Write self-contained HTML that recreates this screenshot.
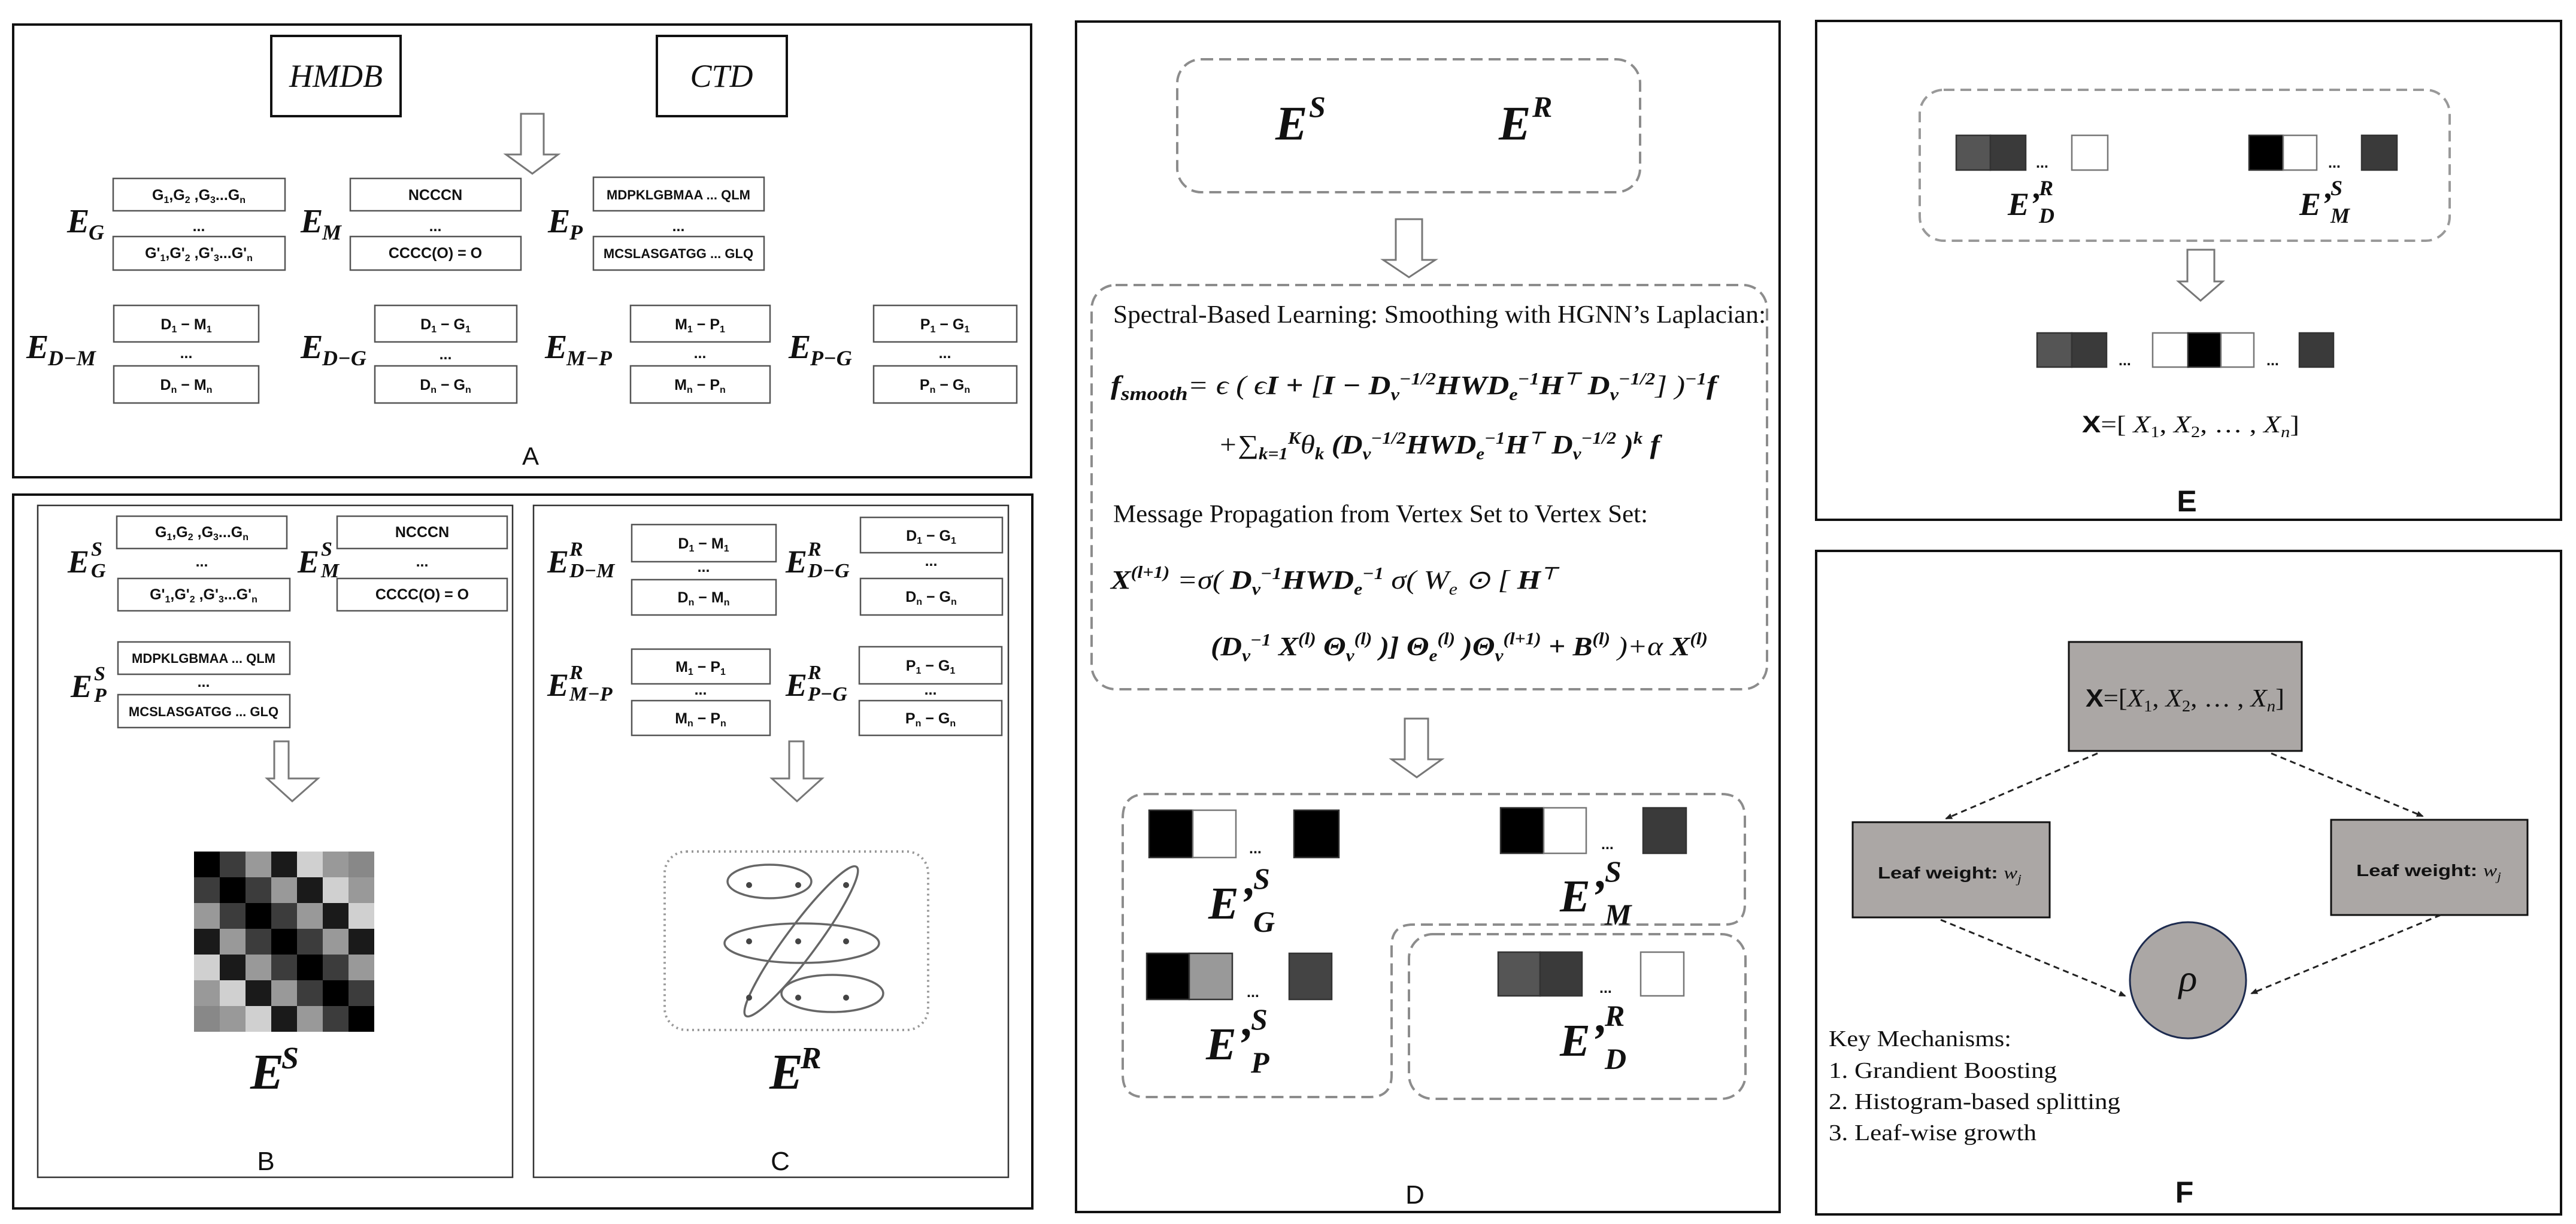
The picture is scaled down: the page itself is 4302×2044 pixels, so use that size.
<!DOCTYPE html>
<html><head><meta charset="utf-8"><style>
html,body{margin:0;padding:0;background:#fff;}
body{width:4302px;height:2044px;position:relative;overflow:hidden;}
svg{position:absolute;left:0;top:0;}
.bx{font-family:"Liberation Sans",sans-serif;font-weight:bold;font-size:25px;fill:#111;}
.mi{font-family:"Liberation Serif",serif;font-style:italic;fill:#111;}
.mb{font-family:"Liberation Serif",serif;font-style:italic;font-weight:bold;fill:#111;}
.tr{font-family:"Liberation Serif",serif;fill:#111;}
.lab{font-family:"Liberation Sans",sans-serif;fill:#111;}
</style></head><body>
<svg width="4302" height="2044" viewBox="0 0 4302 2044" xmlns="http://www.w3.org/2000/svg">
<defs>
<marker id="ah" markerWidth="12" markerHeight="10" refX="10" refY="5" orient="auto" markerUnits="userSpaceOnUse"><path d="M0,0 L12,5 L0,10 Z" fill="#222"/></marker>
</defs>
<g fill="none" stroke="#111" stroke-width="4">
<rect x="22" y="41" width="1700" height="756"/>
<rect x="22" y="826" width="1702" height="1192"/>
<rect x="1797" y="36" width="1175" height="1988"/>
<rect x="3033" y="35" width="1244" height="833"/>
<rect x="3033" y="920" width="1244" height="1108"/>
</g>
<g fill="none" stroke="#333" stroke-width="2.5">
<rect x="63" y="844" width="793" height="1122"/>
<rect x="891" y="844" width="793" height="1122"/>
</g>
<g fill="#fff" stroke="#111" stroke-width="4">
<rect x="453" y="60" width="216" height="134"/>
<rect x="1097" y="60" width="217" height="134"/>
</g>
<text x="561" y="145" text-anchor="middle" class="mi" font-size="54">HMDB</text>
<text x="1205" y="145" text-anchor="middle" class="mi" font-size="54">CTD</text>
<g fill="#fff" stroke="#777" stroke-width="3">
<path d="M870,190 L908,190 L908,258 L932,258 L889,290 L845,258 L870,258 Z"/>
<path d="M458,1238 L482,1238 L482,1300 L531,1300 L488,1338 L446,1300 L458,1300 Z"/>
<path d="M1318,1238 L1342,1238 L1342,1300 L1373,1300 L1331,1338 L1289,1300 L1318,1300 Z"/>
<path d="M2331,366 L2375,366 L2375,434 L2397,434 L2353,463 L2310,434 L2331,434 Z"/>
<path d="M2346,1200 L2385,1200 L2385,1268 L2408,1268 L2366,1298 L2324,1268 L2346,1268 Z"/>
<path d="M3653,417 L3698,417 L3698,470 L3712,470 L3675,502 L3638,470 L3653,470 Z"/>
</g>
<g fill="#fff" stroke="#555" stroke-width="2.5">
<rect x="189" y="298" width="287" height="54"/><rect x="189" y="395" width="287" height="56"/>
<rect x="585" y="298" width="285" height="54"/><rect x="585" y="395" width="285" height="56"/>
<rect x="991" y="296" width="285" height="56"/><rect x="991" y="395" width="285" height="56"/>
<rect x="190" y="510" width="242" height="61"/><rect x="190" y="611" width="242" height="62"/>
<rect x="626" y="510" width="237" height="61"/><rect x="626" y="611" width="237" height="62"/>
<rect x="1053" y="510" width="233" height="61"/><rect x="1053" y="611" width="233" height="62"/>
<rect x="1459" y="510" width="239" height="61"/><rect x="1459" y="611" width="239" height="62"/>
<rect x="195" y="862" width="284" height="54"/><rect x="197" y="966" width="287" height="54"/>
<rect x="563" y="862" width="284" height="54"/><rect x="563" y="966" width="284" height="54"/>
<rect x="197" y="1072" width="287" height="54"/><rect x="197" y="1160" width="287" height="55"/>
<rect x="1055" y="876" width="241" height="62"/><rect x="1055" y="968" width="241" height="59"/>
<rect x="1437" y="864" width="237" height="59"/><rect x="1437" y="966" width="237" height="61"/>
<rect x="1055" y="1084" width="231" height="58"/><rect x="1055" y="1170" width="231" height="58"/>
<rect x="1435" y="1080" width="238" height="62"/><rect x="1435" y="1170" width="238" height="58"/>
</g>
<g class="bx" text-anchor="middle">
<text x="332" y="334">G<tspan font-size="16" dy="5">1</tspan><tspan dy="-5">,G</tspan><tspan font-size="16" dy="5">2</tspan><tspan dy="-5"> ,G</tspan><tspan font-size="16" dy="5">3</tspan><tspan dy="-5">...G</tspan><tspan font-size="16" dy="5">n</tspan></text>
<text x="332" y="386">...</text>
<text x="332" y="431">G'<tspan font-size="16" dy="5">1</tspan><tspan dy="-5">,G'</tspan><tspan font-size="16" dy="5">2</tspan><tspan dy="-5"> ,G'</tspan><tspan font-size="16" dy="5">3</tspan><tspan dy="-5">...G'</tspan><tspan font-size="16" dy="5">n</tspan></text>
<text x="727" y="334">NCCCN</text><text x="727" y="386">...</text><text x="727" y="431">CCCC(O) = O</text>
<text x="1133" y="333" font-size="22">MDPKLGBMAA ... QLM</text><text x="1133" y="386">...</text><text x="1133" y="431" font-size="22">MCSLASGATGG ... GLQ</text>
<text x="311" y="550">D<tspan font-size="16" dy="5">1</tspan><tspan dy="-5"> − M</tspan><tspan font-size="16" dy="5">1</tspan></text><text x="311" y="598">...</text><text x="311" y="651">D<tspan font-size="16" dy="5">n</tspan><tspan dy="-5"> − M</tspan><tspan font-size="16" dy="5">n</tspan></text>
<text x="744" y="550">D<tspan font-size="16" dy="5">1</tspan><tspan dy="-5"> − G</tspan><tspan font-size="16" dy="5">1</tspan></text><text x="744" y="600">...</text><text x="744" y="651">D<tspan font-size="16" dy="5">n</tspan><tspan dy="-5"> − G</tspan><tspan font-size="16" dy="5">n</tspan></text>
<text x="1169" y="550">M<tspan font-size="16" dy="5">1</tspan><tspan dy="-5"> − P</tspan><tspan font-size="16" dy="5">1</tspan></text><text x="1169" y="598">...</text><text x="1169" y="651">M<tspan font-size="16" dy="5">n</tspan><tspan dy="-5"> − P</tspan><tspan font-size="16" dy="5">n</tspan></text>
<text x="1578" y="550">P<tspan font-size="16" dy="5">1</tspan><tspan dy="-5"> − G</tspan><tspan font-size="16" dy="5">1</tspan></text><text x="1578" y="598">...</text><text x="1578" y="651">P<tspan font-size="16" dy="5">n</tspan><tspan dy="-5"> − G</tspan><tspan font-size="16" dy="5">n</tspan></text>
<text x="337" y="897">G<tspan font-size="16" dy="5">1</tspan><tspan dy="-5">,G</tspan><tspan font-size="16" dy="5">2</tspan><tspan dy="-5"> ,G</tspan><tspan font-size="16" dy="5">3</tspan><tspan dy="-5">...G</tspan><tspan font-size="16" dy="5">n</tspan></text>
<text x="337" y="946">...</text>
<text x="340" y="1001">G'<tspan font-size="16" dy="5">1</tspan><tspan dy="-5">,G'</tspan><tspan font-size="16" dy="5">2</tspan><tspan dy="-5"> ,G'</tspan><tspan font-size="16" dy="5">3</tspan><tspan dy="-5">...G'</tspan><tspan font-size="16" dy="5">n</tspan></text>
<text x="705" y="897">NCCCN</text><text x="705" y="946">...</text><text x="705" y="1001">CCCC(O) = O</text>
<text x="340" y="1107" font-size="22">MDPKLGBMAA ... QLM</text><text x="340" y="1147">...</text><text x="340" y="1196" font-size="22">MCSLASGATGG ... GLQ</text>
<text x="1175" y="916">D<tspan font-size="16" dy="5">1</tspan><tspan dy="-5"> − M</tspan><tspan font-size="16" dy="5">1</tspan></text><text x="1175" y="955">...</text><text x="1175" y="1006">D<tspan font-size="16" dy="5">n</tspan><tspan dy="-5"> − M</tspan><tspan font-size="16" dy="5">n</tspan></text>
<text x="1555" y="903">D<tspan font-size="16" dy="5">1</tspan><tspan dy="-5"> − G</tspan><tspan font-size="16" dy="5">1</tspan></text><text x="1555" y="945">...</text><text x="1555" y="1005">D<tspan font-size="16" dy="5">n</tspan><tspan dy="-5"> − G</tspan><tspan font-size="16" dy="5">n</tspan></text>
<text x="1170" y="1122">M<tspan font-size="16" dy="5">1</tspan><tspan dy="-5"> − P</tspan><tspan font-size="16" dy="5">1</tspan></text><text x="1170" y="1160">...</text><text x="1170" y="1208">M<tspan font-size="16" dy="5">n</tspan><tspan dy="-5"> − P</tspan><tspan font-size="16" dy="5">n</tspan></text>
<text x="1554" y="1120">P<tspan font-size="16" dy="5">1</tspan><tspan dy="-5"> − G</tspan><tspan font-size="16" dy="5">1</tspan></text><text x="1554" y="1160">...</text><text x="1554" y="1208">P<tspan font-size="16" dy="5">n</tspan><tspan dy="-5"> − G</tspan><tspan font-size="16" dy="5">n</tspan></text>
</g>
<g class="mb">
<text x="112" y="388" font-size="56">E</text><text x="148" y="400" font-size="36">G</text>
<text x="502" y="388" font-size="56">E</text><text x="538" y="400" font-size="36">M</text>
<text x="915" y="388" font-size="56">E</text><text x="951" y="400" font-size="36">P</text>
<text x="44" y="598" font-size="56">E</text><text x="80" y="610" font-size="36">D−M</text>
<text x="502" y="598" font-size="56">E</text><text x="538" y="610" font-size="36">D−G</text>
<text x="910" y="598" font-size="56">E</text><text x="946" y="610" font-size="36">M−P</text>
<text x="1317" y="598" font-size="56">E</text><text x="1353" y="610" font-size="36">P−G</text>
<text x="113" y="956" font-size="54">E</text><text x="152" y="928" font-size="34">S</text><text x="152" y="964" font-size="34">G</text>
<text x="497" y="956" font-size="54">E</text><text x="536" y="928" font-size="34">S</text><text x="536" y="964" font-size="34">M</text>
<text x="118" y="1164" font-size="54">E</text><text x="157" y="1136" font-size="34">S</text><text x="157" y="1172" font-size="34">P</text>
<text x="914" y="956" font-size="54">E</text><text x="951" y="928" font-size="34">R</text><text x="951" y="964" font-size="34">D−M</text>
<text x="1312" y="956" font-size="54">E</text><text x="1349" y="928" font-size="34">R</text><text x="1349" y="964" font-size="34">D−G</text>
<text x="914" y="1162" font-size="54">E</text><text x="951" y="1134" font-size="34">R</text><text x="951" y="1170" font-size="34">M−P</text>
<text x="1312" y="1162" font-size="54">E</text><text x="1349" y="1134" font-size="34">R</text><text x="1349" y="1170" font-size="34">P−G</text>
<text x="418" y="1818" font-size="84">E</text><text x="470" y="1784" font-size="52">S</text>
<text x="1285" y="1818" font-size="84">E</text><text x="1337" y="1784" font-size="52">R</text>
</g>
<g>
<rect x="324" y="1422" width="43" height="43" fill="#000"/><rect x="367" y="1422" width="43" height="43" fill="#3c3c3c"/><rect x="410" y="1422" width="43" height="43" fill="#999"/><rect x="453" y="1422" width="43" height="43" fill="#1a1a1a"/><rect x="496" y="1422" width="43" height="43" fill="#d0d0d0"/><rect x="539" y="1422" width="43" height="43" fill="#999"/><rect x="582" y="1422" width="43" height="43" fill="#888"/>
<rect x="324" y="1465" width="43" height="43" fill="#3c3c3c"/><rect x="367" y="1465" width="43" height="43" fill="#000"/><rect x="410" y="1465" width="43" height="43" fill="#3c3c3c"/><rect x="453" y="1465" width="43" height="43" fill="#999"/><rect x="496" y="1465" width="43" height="43" fill="#1a1a1a"/><rect x="539" y="1465" width="43" height="43" fill="#d0d0d0"/><rect x="582" y="1465" width="43" height="43" fill="#999"/>
<rect x="324" y="1508" width="43" height="43" fill="#999"/><rect x="367" y="1508" width="43" height="43" fill="#3c3c3c"/><rect x="410" y="1508" width="43" height="43" fill="#000"/><rect x="453" y="1508" width="43" height="43" fill="#3c3c3c"/><rect x="496" y="1508" width="43" height="43" fill="#999"/><rect x="539" y="1508" width="43" height="43" fill="#1a1a1a"/><rect x="582" y="1508" width="43" height="43" fill="#d0d0d0"/>
<rect x="324" y="1551" width="43" height="43" fill="#1a1a1a"/><rect x="367" y="1551" width="43" height="43" fill="#999"/><rect x="410" y="1551" width="43" height="43" fill="#3c3c3c"/><rect x="453" y="1551" width="43" height="43" fill="#000"/><rect x="496" y="1551" width="43" height="43" fill="#3c3c3c"/><rect x="539" y="1551" width="43" height="43" fill="#999"/><rect x="582" y="1551" width="43" height="43" fill="#1a1a1a"/>
<rect x="324" y="1594" width="43" height="43" fill="#d0d0d0"/><rect x="367" y="1594" width="43" height="43" fill="#1a1a1a"/><rect x="410" y="1594" width="43" height="43" fill="#999"/><rect x="453" y="1594" width="43" height="43" fill="#3c3c3c"/><rect x="496" y="1594" width="43" height="43" fill="#000"/><rect x="539" y="1594" width="43" height="43" fill="#3c3c3c"/><rect x="582" y="1594" width="43" height="43" fill="#999"/>
<rect x="324" y="1637" width="43" height="43" fill="#999"/><rect x="367" y="1637" width="43" height="43" fill="#d0d0d0"/><rect x="410" y="1637" width="43" height="43" fill="#1a1a1a"/><rect x="453" y="1637" width="43" height="43" fill="#999"/><rect x="496" y="1637" width="43" height="43" fill="#3c3c3c"/><rect x="539" y="1637" width="43" height="43" fill="#000"/><rect x="582" y="1637" width="43" height="43" fill="#3c3c3c"/>
<rect x="324" y="1680" width="43" height="43" fill="#888"/><rect x="367" y="1680" width="43" height="43" fill="#999"/><rect x="410" y="1680" width="43" height="43" fill="#d0d0d0"/><rect x="453" y="1680" width="43" height="43" fill="#1a1a1a"/><rect x="496" y="1680" width="43" height="43" fill="#999"/><rect x="539" y="1680" width="43" height="43" fill="#3c3c3c"/><rect x="582" y="1680" width="43" height="43" fill="#000"/>
</g>
<rect x="1110" y="1422" width="440" height="298" rx="36" fill="none" stroke="#999" stroke-width="4" stroke-dasharray="3 6"/>
<g fill="none" stroke="#666" stroke-width="3.5">
<ellipse cx="1285" cy="1472" rx="70" ry="28"/>
<ellipse cx="1339" cy="1575" rx="129" ry="33"/>
<ellipse cx="1390" cy="1659" rx="85" ry="31"/>
<ellipse cx="1338" cy="1572" rx="155" ry="26" transform="rotate(-53.4 1338 1572)"/>
</g>
<g fill="#444">
<circle cx="1251" cy="1478" r="5"/><circle cx="1333" cy="1478" r="5"/><circle cx="1413" cy="1478" r="5"/>
<circle cx="1251" cy="1572" r="5"/><circle cx="1333" cy="1572" r="5"/><circle cx="1413" cy="1572" r="5"/>
<circle cx="1251" cy="1666" r="5"/><circle cx="1333" cy="1666" r="5"/><circle cx="1413" cy="1666" r="5"/>
</g>
<g fill="none" stroke="#8c8c8c" stroke-width="4" stroke-dasharray="20 10">
<rect x="1966" y="99" width="773" height="222" rx="40"/>
<rect x="1823" y="476" width="1128" height="675" rx="40"/>
<path d="M1915,1326 L2874,1326 Q2914,1326 2914,1366 L2914,1510 Q2914,1544 2880,1544 L2360,1544 Q2324,1544 2324,1580 L2324,1795 Q2324,1832 2288,1832 L1912,1832 Q1875,1832 1875,1795 L1875,1366 Q1875,1326 1915,1326 Z"/>
<rect x="2353" y="1560" width="562" height="275" rx="40"/>
</g>
<g class="mb">
<text x="2130" y="233" font-size="80">E</text><text x="2186" y="195" font-size="50">S</text>
<text x="2503" y="233" font-size="80">E</text><text x="2559" y="195" font-size="50">R</text>
</g>
<text x="1859" y="539" class="tr" font-size="42" textLength="1090" lengthAdjust="spacingAndGlyphs">Spectral-Based Learning: Smoothing with HGNN’s Laplacian:</text>
<text x="1855" y="658" class="mb" font-size="44" textLength="1012" lengthAdjust="spacingAndGlyphs">f<tspan font-size="32" dy="10">smooth</tspan><tspan dy="-10" font-weight="normal">= ϵ ( ϵ</tspan>I + <tspan font-weight="normal"> [</tspan>I − D<tspan font-size="28" dy="10">v</tspan><tspan font-size="28" dy="-26">−1/2</tspan><tspan dy="16">HWD</tspan><tspan font-size="28" dy="10">e</tspan><tspan font-size="28" dy="-26">−1</tspan><tspan dy="16">H</tspan><tspan font-size="28" dy="-16">⊤</tspan><tspan dy="16"> D</tspan><tspan font-size="28" dy="10">v</tspan><tspan font-size="28" dy="-26">−1/2</tspan><tspan dy="16" font-weight="normal">] )</tspan><tspan font-size="28" dy="-16">−1</tspan><tspan dy="16">f</tspan></text>
<text x="2034" y="757" class="mb" font-size="44" textLength="738" lengthAdjust="spacingAndGlyphs"><tspan font-weight="normal">+∑</tspan><tspan font-size="28" dy="10">k=1</tspan><tspan font-size="28" dy="-26">K</tspan><tspan dy="16" font-weight="normal">θ</tspan><tspan font-size="28" dy="10">k</tspan><tspan dy="-10"> (D</tspan><tspan font-size="28" dy="10">v</tspan><tspan font-size="28" dy="-26">−1/2</tspan><tspan dy="16">HWD</tspan><tspan font-size="28" dy="10">e</tspan><tspan font-size="28" dy="-26">−1</tspan><tspan dy="16">H</tspan><tspan font-size="28" dy="-16">⊤</tspan><tspan dy="16"> D</tspan><tspan font-size="28" dy="10">v</tspan><tspan font-size="28" dy="-26">−1/2</tspan><tspan dy="16"> )</tspan><tspan font-size="28" dy="-16">k</tspan><tspan dy="16"> f</tspan></text>
<text x="1859" y="872" class="tr" font-size="42" textLength="893" lengthAdjust="spacingAndGlyphs">Message Propagation from Vertex Set to Vertex Set:</text>
<text x="1855" y="983" class="mb" font-size="44" textLength="746" lengthAdjust="spacingAndGlyphs">X<tspan font-size="28" dy="-18">(l+1)</tspan><tspan dy="18" font-weight="normal"> =σ( </tspan>D<tspan font-size="28" dy="10">v</tspan><tspan font-size="28" dy="-26">−1</tspan><tspan dy="16">HWD</tspan><tspan font-size="28" dy="10">e</tspan><tspan font-size="28" dy="-26">−1</tspan><tspan dy="16" font-weight="normal"> σ( W</tspan><tspan font-size="28" dy="10" font-weight="normal">e</tspan><tspan dy="-10" font-weight="normal"> ⊙  [ </tspan>H<tspan font-size="28" dy="-16">⊤</tspan></text>
<text x="2022" y="1094" class="mb" font-size="44" textLength="830" lengthAdjust="spacingAndGlyphs">(D<tspan font-size="28" dy="10">v</tspan><tspan font-size="28" dy="-26">−1</tspan><tspan dy="16"> X</tspan><tspan font-size="28" dy="-18">(l)</tspan><tspan dy="18"> Θ</tspan><tspan font-size="28" dy="10">v</tspan><tspan font-size="28" dy="-28">(l)</tspan><tspan dy="18"> )] Θ</tspan><tspan font-size="28" dy="10">e</tspan><tspan font-size="28" dy="-28">(l)</tspan><tspan dy="18"> )Θ</tspan><tspan font-size="28" dy="10">v</tspan><tspan font-size="28" dy="-28">(l+1)</tspan><tspan dy="18"> + B</tspan><tspan font-size="28" dy="-18">(l)</tspan><tspan dy="18" font-weight="normal"> )+α </tspan>X<tspan font-size="28" dy="-18">(l)</tspan></text>
<g stroke="#333" stroke-width="2.5">
<rect x="1919" y="1353" width="73" height="79" fill="#000"/><rect x="1992" y="1353" width="72" height="79" fill="#fff" stroke="#777"/><rect x="2161" y="1353" width="75" height="79" fill="#000"/>
<rect x="2506" y="1349" width="72" height="76" fill="#000"/><rect x="2578" y="1349" width="71" height="76" fill="#fff" stroke="#777"/><rect x="2744" y="1349" width="72" height="76" fill="#3a3a3a"/>
<rect x="1915" y="1592" width="71" height="77" fill="#000"/><rect x="1986" y="1592" width="72" height="77" fill="#999"/><rect x="2153" y="1592" width="71" height="77" fill="#444"/>
<rect x="2502" y="1590" width="70" height="73" fill="#555"/><rect x="2572" y="1590" width="70" height="73" fill="#3a3a3a"/><rect x="2740" y="1590" width="72" height="73" fill="#fff" stroke="#777"/>
</g>
<g class="bx" font-size="38">
<text x="2086" y="1425">...</text><text x="2674" y="1418">...</text><text x="2082" y="1665">...</text><text x="2671" y="1658">...</text>
</g>
<g class="mb">
<text x="2018" y="1534" font-size="76">E’</text><text x="2093" y="1484" font-size="50">S</text><text x="2093" y="1556" font-size="50">G</text>
<text x="2605" y="1522" font-size="76">E’</text><text x="2680" y="1472" font-size="50">S</text><text x="2680" y="1544" font-size="50">M</text>
<text x="2014" y="1769" font-size="76">E’</text><text x="2089" y="1719" font-size="50">S</text><text x="2089" y="1791" font-size="50">P</text>
<text x="2605" y="1763" font-size="76">E’</text><text x="2680" y="1713" font-size="50">R</text><text x="2680" y="1785" font-size="50">D</text>
</g>
<rect x="3206" y="150" width="885" height="252" rx="40" fill="none" stroke="#999" stroke-width="4" stroke-dasharray="18 10"/>
<g stroke="#333" stroke-width="2.5">
<rect x="3267" y="226" width="57" height="58" fill="#555"/><rect x="3324" y="226" width="59" height="58" fill="#3a3a3a"/><rect x="3460" y="226" width="60" height="58" fill="#fff" stroke="#777"/>
<rect x="3756" y="226" width="57" height="58" fill="#000"/><rect x="3813" y="226" width="56" height="58" fill="#fff" stroke="#777"/><rect x="3944" y="226" width="59" height="58" fill="#3a3a3a"/>
<rect x="3402" y="556" width="58" height="57" fill="#555"/><rect x="3460" y="556" width="58" height="57" fill="#3a3a3a"/>
<rect x="3595" y="556" width="59" height="57" fill="#fff" stroke="#777"/><rect x="3654" y="556" width="55" height="57" fill="#000"/><rect x="3709" y="556" width="55" height="57" fill="#fff" stroke="#777"/>
<rect x="3840" y="556" width="57" height="57" fill="#3a3a3a"/>
</g>
<g class="bx" font-size="32">
<text x="3400" y="280">...</text><text x="3888" y="280">...</text><text x="3538" y="610">...</text><text x="3785" y="610">...</text>
</g>
<g class="mb">
<text x="3353" y="359" font-size="54">E’</text><text x="3405" y="326" font-size="36">R</text><text x="3405" y="372" font-size="36">D</text>
<text x="3840" y="359" font-size="54">E’</text><text x="3892" y="326" font-size="36">S</text><text x="3892" y="372" font-size="36">M</text>
</g>
<text x="3477" y="722" font-size="40" textLength="363" lengthAdjust="spacingAndGlyphs"><tspan class="lab" font-weight="bold">X</tspan><tspan class="tr">=[ </tspan><tspan class="mi">X</tspan><tspan class="tr" font-size="26" dy="8">1</tspan><tspan class="tr" dy="-8">,  </tspan><tspan class="mi">X</tspan><tspan class="tr" font-size="26" dy="8">2</tspan><tspan class="tr" dy="-8">, … ,  </tspan><tspan class="mi">X</tspan><tspan class="mi" font-size="26" dy="8">n</tspan><tspan class="tr" dy="-8">]</tspan></text>
<g fill="#aba7a5" stroke="#111" stroke-width="3">
<rect x="3455" y="1072" width="389" height="182"/>
<rect x="3094" y="1373" width="329" height="159"/>
<rect x="3893" y="1369" width="328" height="159"/>
</g>
<circle cx="3654" cy="1637" r="97" fill="#aba7a5" stroke="#1d2b4f" stroke-width="3"/>
<g stroke="#222" stroke-width="3" stroke-dasharray="10 7" fill="none" marker-end="url(#ah)">
<line x1="3503" y1="1258" x2="3250" y2="1367"/>
<line x1="3793" y1="1258" x2="4046" y2="1363"/>
<line x1="3241" y1="1536" x2="3549" y2="1663"/>
<line x1="4076" y1="1528" x2="3760" y2="1659"/>
</g>
<text x="3483" y="1180" font-size="42" textLength="332" lengthAdjust="spacingAndGlyphs"><tspan class="lab" font-weight="bold">X</tspan><tspan class="tr">=[</tspan><tspan class="mi">X</tspan><tspan class="tr" font-size="27" dy="8">1</tspan><tspan class="tr" dy="-8">, </tspan><tspan class="mi">X</tspan><tspan class="tr" font-size="27" dy="8">2</tspan><tspan class="tr" dy="-8">, … , </tspan><tspan class="mi">X</tspan><tspan class="mi" font-size="27" dy="8">n</tspan><tspan class="tr" dy="-8">]</tspan></text>
<text x="3136" y="1467" font-size="28" textLength="240" lengthAdjust="spacingAndGlyphs"><tspan class="lab" font-weight="bold">Leaf weight: </tspan><tspan class="mi">w</tspan><tspan class="mi" font-size="20" dy="7">j</tspan></text>
<text x="3935" y="1463" font-size="28" textLength="242" lengthAdjust="spacingAndGlyphs"><tspan class="lab" font-weight="bold">Leaf weight: </tspan><tspan class="mi">w</tspan><tspan class="mi" font-size="20" dy="7">j</tspan></text>
<text x="3654" y="1655" text-anchor="middle" class="mi" font-size="64">ρ</text>
<g class="tr" font-size="38" fill="#222">
<text x="3054" y="1747" textLength="305" lengthAdjust="spacingAndGlyphs">Key Mechanisms:</text>
<text x="3054" y="1800" textLength="381" lengthAdjust="spacingAndGlyphs">1. Grandient Boosting</text>
<text x="3054" y="1852" textLength="487" lengthAdjust="spacingAndGlyphs">2. Histogram-based splitting</text>
<text x="3054" y="1904" textLength="347" lengthAdjust="spacingAndGlyphs">3. Leaf-wise growth</text>
</g>
<g class="lab" text-anchor="middle">
<text x="886" y="776" font-size="42">A</text>
<text x="444" y="1954" font-size="44">B</text>
<text x="1303" y="1954" font-size="44">C</text>
<text x="2363" y="2010" font-size="44">D</text>
<text x="3652" y="854" font-size="50" font-weight="bold">E</text>
<text x="3648" y="2008" font-size="50" font-weight="bold">F</text>
</g>
</svg>
</body></html>
